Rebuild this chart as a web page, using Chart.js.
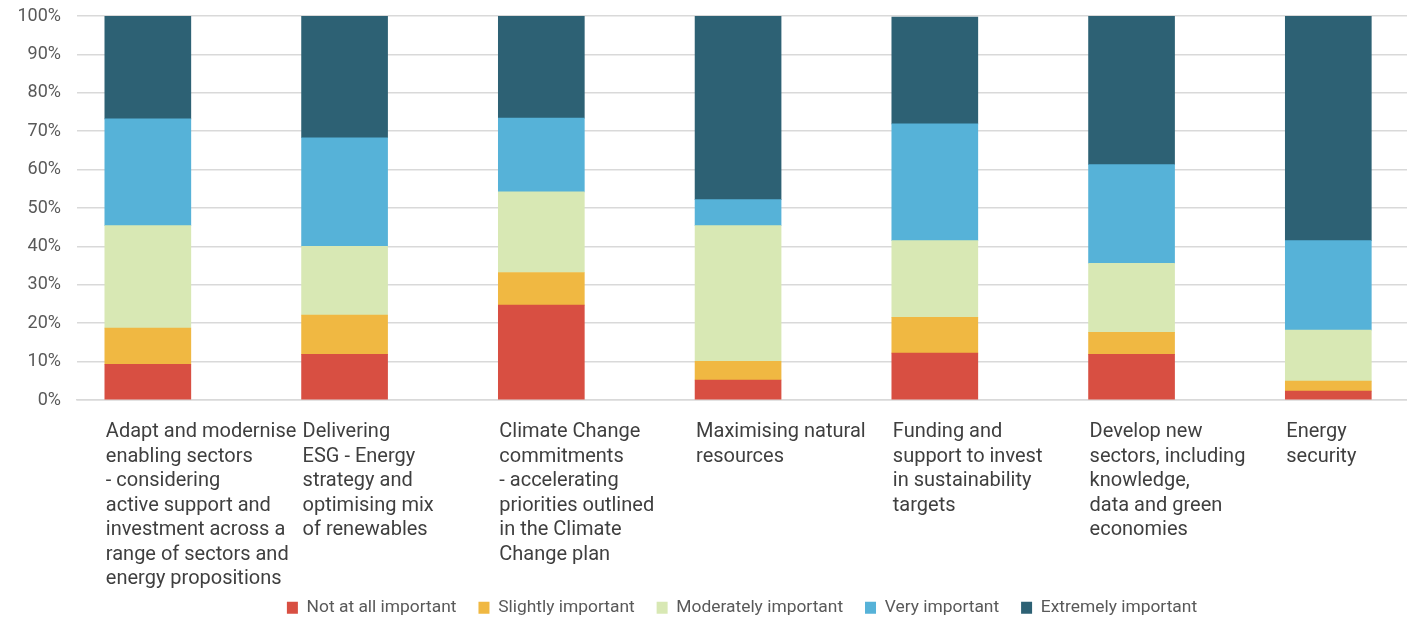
<!DOCTYPE html>
<html>
<head>
<meta charset="utf-8">
<script src="https://cdn.jsdelivr.net/npm/chart.js@4"></script>
<style>
  html, body { margin: 0; padding: 0; background: #fff; }
  #wrap { width: 1407px; height: 621px; position: relative; }
</style>
</head>
<body>
<div id="wrap"><canvas id="chart"></canvas></div>
<script>
// categories, one array of lines per bar
const categorias = [
    ['Adapt and modernise', 'enabling sectors', '- considering', 'active support and', 'investment across a', 'range of sectors and', 'energy propositions'],
    ['Delivering', 'ESG - Energy', 'strategy and', 'optimising mix', 'of renewables'],
    ['Climate Change', 'commitments', '- accelerating', 'priorities outlined', 'in the Climate', 'Change plan'],
    ['Maximising natural', 'resources'],
    ['Funding and', 'support to invest', 'in sustainability', 'targets'],
    ['Develop new', 'sectors, including', 'knowledge,', 'data and green', 'economies'],
    ['Energy', 'security']
];

const seriesNames = ['Not at all important', 'Slightly important', 'Moderately important', 'Very important', 'Extremely important'];

// percentages
const notAtAll   = [9.3, 11.9, 24.7, 5.2, 12.2, 11.9, 2.3];
const slightly   = [9.4, 10.2, 8.5, 4.9, 9.3, 5.7, 2.6];
const moderately = [26.7, 17.9, 21.0, 35.3, 20.0, 18.0, 13.3];
const very       = [27.8, 28.3, 19.2, 6.8, 30.4, 25.7, 23.3];
const extremely  = [26.8, 31.7, 26.6, 47.8, 27.8, 38.7, 58.5];

const yTicks = [0, 10, 20, 30, 40, 50, 60, 70, 80, 90, 100];

const cores = ['#d84f42', '#f0b842', '#d8e8b4', '#56b2d8', '#2d6174'];

function pontos(valores) {
    return valores.map((v, i) => ({ x: i, y: v }));
}

let series = [notAtAll, slightly, moderately, very, extremely];
let datasets = series.map((s, k) => ({
    label: seriesNames[k],
    data: pontos(s),
    backgroundColor: cores[k],
    borderWidth: 0,
    barThickness: 86
}));

let ctx = document.getElementById('chart').getContext('2d');
let chart = new Chart(ctx, {
    type: 'bar',
    data: { datasets: datasets },
    options: {
        responsive: true,
        maintainAspectRatio: false,
        animation: false,
        layout: { padding: { top: 16, left: 0, right: 0, bottom: -5.4 } },
        plugins: {
            tooltip: { enabled: false },
            legend: {
                position: 'bottom',
                fullSize: false,
                labels: {
                    boxWidth: 11,
                    boxHeight: 12,
                    padding: 9,
                    color: '#595959',
                    font: { family: 'Roboto', size: 17.4 },
                    generateLabels: c => {
                        let itens = Chart.defaults.plugins.legend.labels.generateLabels(c);
                        // wider gap between legend entries
                        itens.forEach((it, i) => {
                            if (i < itens.length - 1) it.text = it.text + '   ';
                        });
                        return itens;
                    }
                }
            }
        },
        scales: {
            x: {
                type: 'linear',
                stacked: true,
                offset: false,
                min: -0.36,
                max: 6.40,
                afterBuildTicks: axis => {
                    axis.ticks = categorias.map((c, i) => ({ value: i }));
                },
                afterFit: axis => {
                    axis.height = 190;
                    axis.paddingLeft = 0;
                    axis.paddingRight = 0;
                },
                grid: { display: false, offset: false },
                border: { display: true, color: '#d9d9d9', width: 1.5 },
                ticks: {
                    autoSkip: false,
                    maxRotation: 0,
                    minRotation: 0,
                    align: 'start',
                    labelOffset: -42,
                    padding: 12,
                    color: '#3f3f3f',
                    font: { family: 'Roboto', size: 20, lineHeight: 1.225 },
                    callback: value => categorias[value]
                }
            },
            y: {
                stacked: true,
                min: 0,
                max: 100,
                afterBuildTicks: axis => {
                    axis.ticks = yTicks.map(v => ({ value: v }));
                },
                afterFit: axis => {
                    axis.width = 77;
                    axis.paddingTop = 0;
                    axis.paddingBottom = 0;
                },
                border: { display: false },
                grid: { color: '#d9d9d9', lineWidth: 1.5, drawTicks: false },
                ticks: {
                    padding: 16,
                    color: '#595959',
                    font: { family: 'Roboto', size: 18 },
                    callback: v => v + '%'
                }
            }
        }
    }
});
</script>
</body>
</html>
